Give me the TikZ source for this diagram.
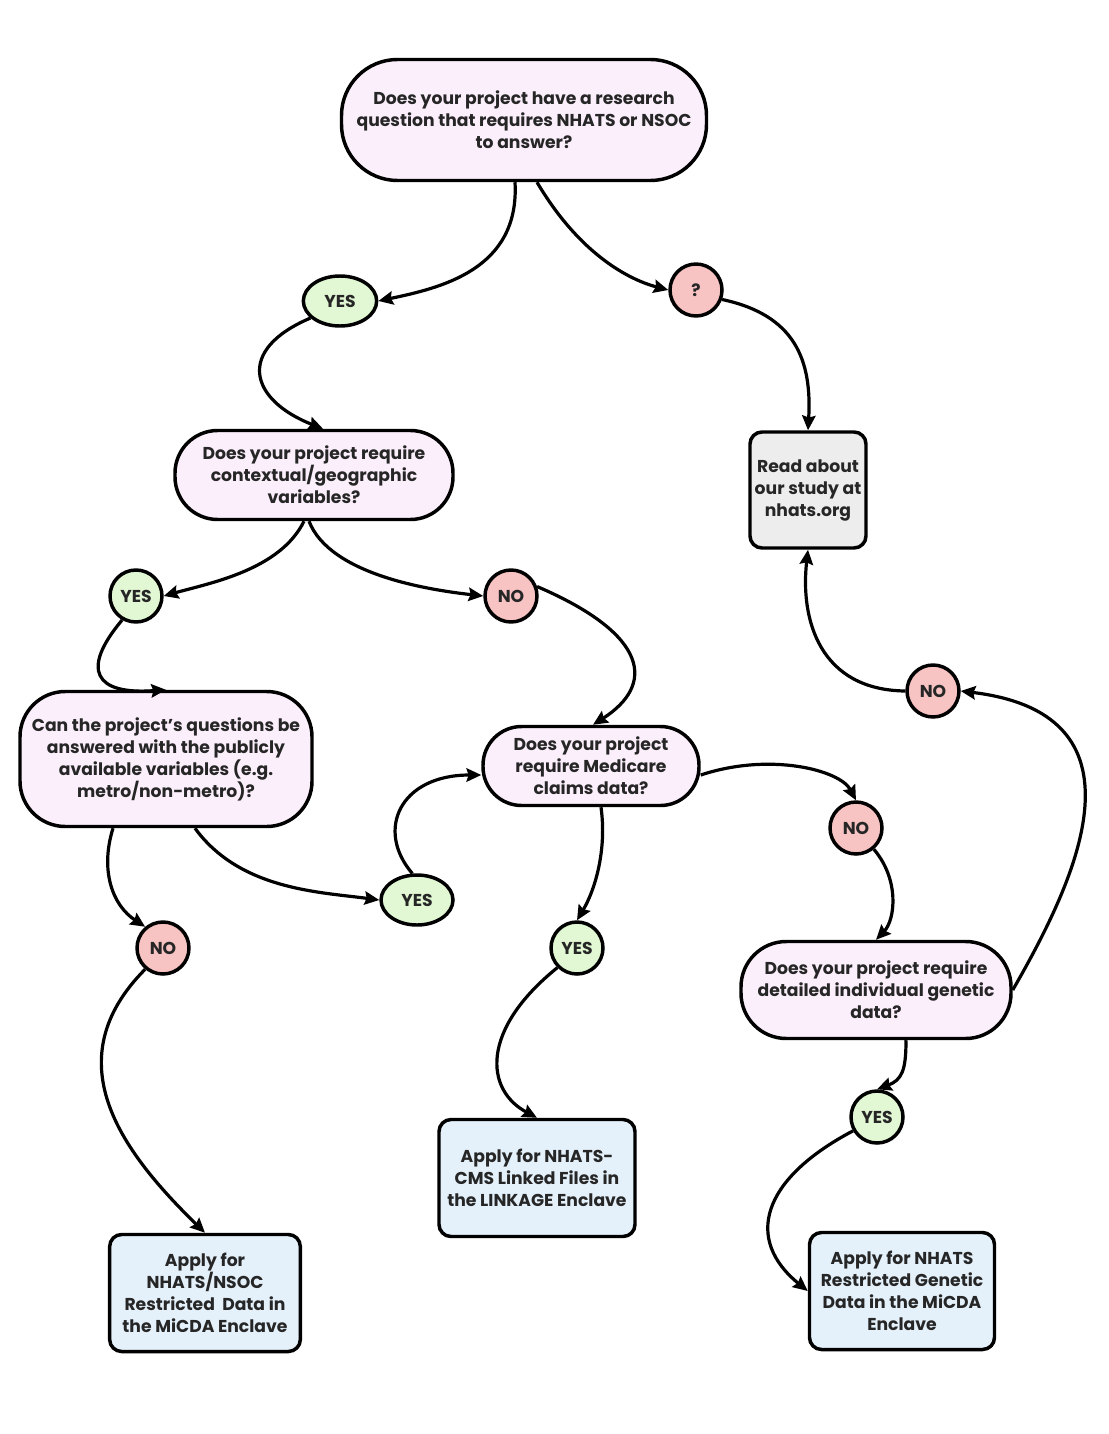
\documentclass[tikz,border=0pt]{standalone}
\usepackage{fontspec}
\setmainfont{Poppins}
\usetikzlibrary{arrows.meta,shapes.geometric}
\definecolor{qfill}{HTML}{FBEFFB}
\definecolor{yfill}{HTML}{E2F7D4}
\definecolor{nfill}{HTML}{F7C3C3}
\definecolor{bfill}{HTML}{E4F1FB}
\definecolor{gfill}{HTML}{EDEDED}
\begin{document}
\begin{tikzpicture}[x=0.75pt,y=-0.75pt,
  every node/.style={font=\fontsize{12.9}{16.5}\selectfont\bfseries, text=black!85},
  qbox/.style={draw, line width=2.6pt, fill=qfill, align=center, inner sep=0pt},
  abox/.style={draw, line width=2.6pt, fill=bfill, align=center, rounded corners=9pt, inner sep=0pt},
  ycirc/.style={draw, line width=2.6pt, fill=yfill, circle, minimum size=39pt, inner sep=0pt},
  yell/.style={draw, line width=2.6pt, fill=yfill, ellipse, minimum width=55pt, minimum height=37.5pt, inner sep=0pt},
  ncirc/.style={draw, line width=2.6pt, fill=nfill, circle, minimum size=39pt, inner sep=0pt},
  conn/.style={line width=2.4pt, -{Stealth[length=11pt,width=10pt,inset=1.5pt]}}
]
\useasboundingbox (0,0) rectangle (1108,1434);
\node[qbox, minimum width=273.75pt, minimum height=90.75pt, rounded corners=42pt] (q1) at (524,120)
  {Does your project have a research\\question that requires NHATS or NSOC\\to answer?};
\node[yell] (y1) at (340,301) {YES};
\node[ncirc] (qm) at (696,290) {?};
\node[draw, line width=2.6pt, fill=gfill, align=center, rounded corners=9pt, inner sep=0pt,
  minimum width=87pt, minimum height=87pt] (read) at (808,490) {Read about\\our study at\\nhats.org};
\node[qbox, minimum width=208.5pt, minimum height=66.75pt, rounded corners=32pt] (q2) at (314,475)
  {Does your project require\\contextual/geographic\\variables?};
\node[ycirc] (y2) at (136,596) {YES};
\node[ncirc] (n1) at (511,596) {NO};
\node[qbox, minimum width=219pt, minimum height=101.25pt, rounded corners=34pt] (q3) at (166,759)
  {Can the project's questions be\\answered with the publicly\\available variables (e.g.\\metro/non-metro)?};
\node[qbox, minimum width=162pt, minimum height=59.25pt, rounded corners=29pt] (q4) at (591,766)
  {Does your project\\require Medicare\\claims data?};
\node[yell, minimum width=54pt] (y3) at (417,900) {YES};
\node[ncirc] (n2) at (163,948) {NO};
\node[ycirc] (y4) at (577,948) {YES};
\node[ncirc] (n3) at (856,828) {NO};
\node[ncirc] (n4) at (933,691) {NO};
\node[qbox, minimum width=202.5pt, minimum height=72.75pt, rounded corners=34pt] (q5) at (876,990)
  {Does your project require\\detailed individual genetic\\data?};
\node[ycirc] (y5) at (877,1117) {YES};
\node[abox, minimum width=143pt, minimum height=87.75pt] (ba) at (205,1293)
  {Apply for\\NHATS/NSOC\\Restricted\ \ Data in\\the MiCDA Enclave};
\node[abox, minimum width=147pt, minimum height=87.75pt] (bb) at (537,1178)
  {Apply for NHATS-\\CMS Linked Files in\\the LINKAGE Enclave};
\node[abox, minimum width=138.75pt, minimum height=87.75pt] (bc) at (902,1291)
  {Apply for NHATS\\Restricted Genetic\\Data in the MiCDA\\Enclave};

\draw[conn] ([xshift=-6.75pt]q1.south) .. controls (520,270) and (440,288) .. (y1.east);
\draw[conn] ([xshift=9.75pt]q1.south) .. controls (580,255) and (630,280) .. (qm.west);
\draw[conn] (qm.-20) .. controls (795,315) and (812,360) .. (read.north);
\draw[conn] (y1.-150) .. controls (235,350) and (250,400) .. ([xshift=6.75pt]q2.north);
\draw[conn] ([xshift=-7.5pt]q2.south) .. controls (280,570) and (210,583) .. (y2.east);
\draw[conn] ([xshift=-3.75pt]q2.south) .. controls (330,575) and (430,590) .. (n1.west);
\draw[conn] (y2.-120) .. controls (80,670) and (95,695) .. (q3.north);
\draw[conn] (n1.20) .. controls (650,635) and (655,685) .. ([xshift=1.5pt]q4.north);
\draw[conn] ([xshift=-39.75pt]q3.south) .. controls (100,870) and (112,905) .. (n2.130);
\draw[conn] ([xshift=21.75pt]q3.south) .. controls (240,890) and (320,892) .. (y3.west);
\draw[conn] (y3.100) .. controls (375,830) and (400,775) .. ([yshift=-6.75pt]q4.west);
\draw[conn] ([xshift=7.5pt]q4.south) .. controls (607,850) and (595,890) .. (y4.north);
\draw[conn] ([yshift=-6.75pt]q4.east) .. controls (770,752) and (840,770) .. (n3.north);
\draw[conn] (n2.-130) .. controls (55,1060) and (120,1150) .. ([xshift=0pt]ba.north);
\draw[conn] (y4.-135) .. controls (480,1030) and (485,1090) .. (bb.north);
\draw[conn] (n3.-50) .. controls (900,880) and (895,920) .. (q5.north);
\draw[conn] (q5.east) .. controls (1070,890) and (1160,715) .. (n4.east);
\draw[conn] (n4.west) .. controls (820,690) and (800,620) .. (read.south);
\draw[conn] ([xshift=22.5pt]q5.south) .. controls (906,1070) and (902,1080) .. (y5.north);
\draw[conn] (y5.-150) .. controls (760,1180) and (745,1240) .. (bc.west);
\end{tikzpicture}
\end{document}
